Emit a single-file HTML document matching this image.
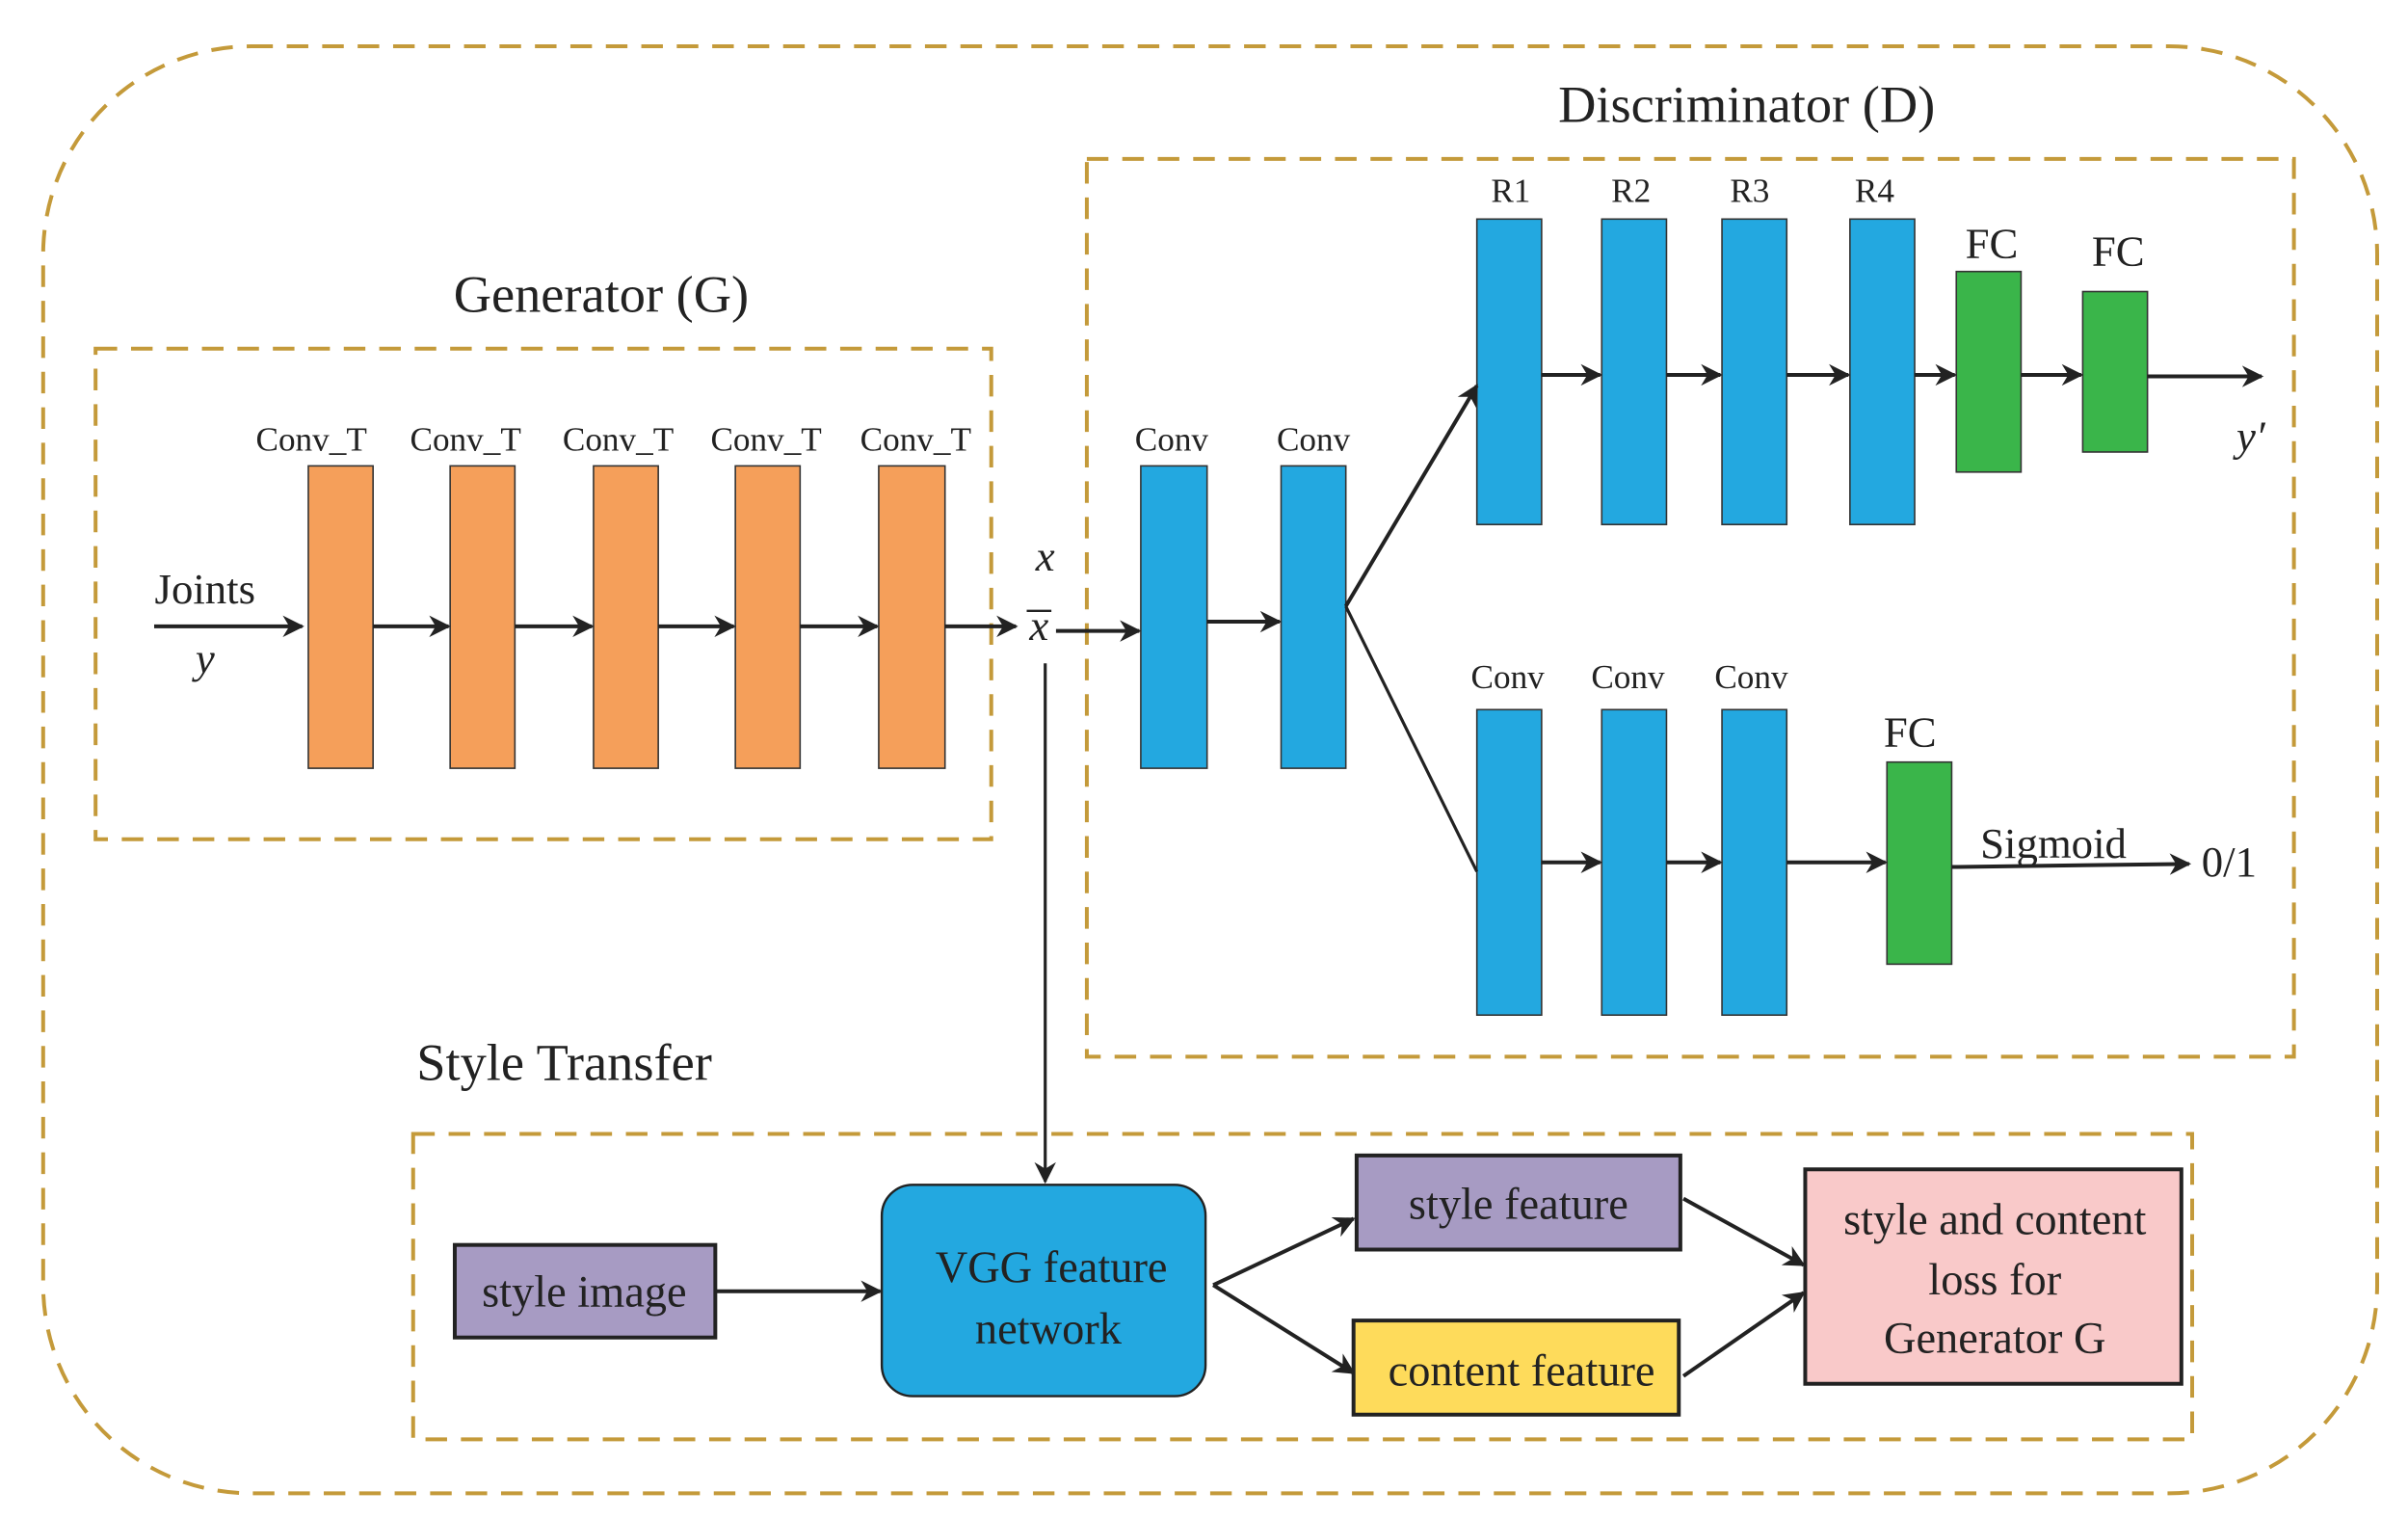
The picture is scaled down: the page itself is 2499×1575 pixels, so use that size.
<!DOCTYPE html>
<html><head><meta charset="utf-8"><style>html,body{margin:0;padding:0;background:#fff}svg{display:block}</style></head>
<body>
<svg width="2499" height="1575" viewBox="0 0 1562 984" preserveAspectRatio="none" xmlns="http://www.w3.org/2000/svg" font-family="Liberation Serif, serif">
<defs>
<marker id="a" viewBox="0 0 10 10" refX="9" refY="5" markerWidth="7" markerHeight="7" orient="auto" markerUnits="userSpaceOnUse"><path d="M0,0 L10,5 L0,10 L3,5 z" fill="#222"/></marker>
<marker id="b" viewBox="0 0 10 10" refX="9" refY="5" markerWidth="18" markerHeight="14" orient="auto" markerUnits="userSpaceOnUse"><path d="M0,0 L10,5 L0,10 L3,5 z" fill="#222"/></marker>
</defs>
<g fill="none" stroke="#c49a3a" stroke-width="2.5" stroke-dasharray="14,9">
<rect x="28" y="30" width="1514" height="938" rx="135"/>
<rect x="705" y="103" width="783" height="582"/>
<rect x="62" y="226" width="581" height="318"/>
<rect x="268" y="735" width="1154" height="198"/>
</g>
<g font-size="34" fill="#222" text-anchor="middle">
<text x="1133" y="79">Discriminator (D)</text>
<text x="390" y="202">Generator (G)</text>
<text x="366" y="700">Style Transfer</text>
</g>
<g fill="#f59f5a" stroke="#333" stroke-width="1">
<rect x="200" y="302" width="42" height="196"/><rect x="292" y="302" width="42" height="196"/><rect x="385" y="302" width="42" height="196"/><rect x="477" y="302" width="42" height="196"/><rect x="570" y="302" width="43" height="196"/>
</g>
<g font-size="22" fill="#222" text-anchor="middle">
<text x="202" y="292">Conv_T</text><text x="302" y="292">Conv_T</text><text x="401" y="292">Conv_T</text><text x="497" y="292">Conv_T</text><text x="594" y="292">Conv_T</text>
<text x="760" y="292">Conv</text><text x="852" y="292">Conv</text>
<text x="980" y="131">R1</text><text x="1058" y="131">R2</text><text x="1135" y="131">R3</text><text x="1216" y="131">R4</text>
<text x="978" y="446">Conv</text><text x="1056" y="446">Conv</text><text x="1136" y="446">Conv</text>
</g>
<g font-size="28" fill="#222" text-anchor="middle">
<text x="133" y="391">Joints</text>
<text x="133" y="436" font-style="italic">y</text>
<text x="678" y="370" font-style="italic">x</text>
<text x="674" y="415" font-style="italic">x</text>
<text x="1292" y="167">FC</text><text x="1374" y="172">FC</text>
<text x="1460" y="292" font-style="italic">y′</text>
<text x="1239" y="484">FC</text>
<text x="1332" y="556">Sigmoid</text>
<text x="1446" y="568">0/1</text>
</g>
<line x1="666" y1="396" x2="682" y2="396" stroke="#222" stroke-width="1.5"/>
<g fill="#23a8e0" stroke="#333" stroke-width="1">
<rect x="740" y="302" width="43" height="196"/><rect x="831" y="302" width="42" height="196"/>
<rect x="958" y="142" width="42" height="198"/><rect x="1039" y="142" width="42" height="198"/><rect x="1117" y="142" width="42" height="198"/><rect x="1200" y="142" width="42" height="198"/>
<rect x="958" y="460" width="42" height="198"/><rect x="1039" y="460" width="42" height="198"/><rect x="1117" y="460" width="42" height="198"/>
</g>
<g fill="#3ab54a" stroke="#333" stroke-width="1">
<rect x="1269" y="176" width="42" height="130"/><rect x="1351" y="189" width="42" height="104"/><rect x="1224" y="494" width="42" height="131"/>
</g>
<g stroke="#222" stroke-width="2.5" fill="none" marker-end="url(#b)">
<line x1="100" y1="406" x2="196" y2="406"/>
<line x1="242" y1="406" x2="291" y2="406"/><line x1="334" y1="406" x2="384" y2="406"/><line x1="427" y1="406" x2="476" y2="406"/><line x1="519" y1="406" x2="569" y2="406"/>
<line x1="613" y1="406" x2="659" y2="406"/>
<line x1="685" y1="409" x2="739" y2="409"/>
<line x1="783" y1="403" x2="830" y2="403"/>
<line x1="1000" y1="243" x2="1038" y2="243"/><line x1="1081" y1="243" x2="1116" y2="243"/><line x1="1159" y1="243" x2="1199" y2="243"/><line x1="1242" y1="243" x2="1268" y2="243"/><line x1="1311" y1="243" x2="1350" y2="243"/>
<line x1="1393" y1="244" x2="1467" y2="244"/>
<line x1="1000" y1="559" x2="1038" y2="559"/><line x1="1081" y1="559" x2="1116" y2="559"/><line x1="1159" y1="559" x2="1223" y2="559"/>
<line x1="1266" y1="562" x2="1420" y2="560"/>
<line x1="873" y1="393" x2="958" y2="250"/>
<line x1="464" y1="837" x2="571" y2="837"/>
<line x1="787" y1="833" x2="878" y2="790"/><line x1="787" y1="833" x2="878" y2="890"/>
<line x1="1092" y1="777" x2="1170" y2="820"/><line x1="1092" y1="892" x2="1170" y2="838"/>
</g>
<line x1="873" y1="393" x2="958" y2="565" stroke="#222" stroke-width="2"/>
<line x1="678" y1="430" x2="678" y2="766" stroke="#222" stroke-width="2" marker-end="url(#b)"/>
<rect x="295" y="807" width="169" height="60" fill="#a79bc3" stroke="#222" stroke-width="2.5"/>
<rect x="572" y="768" width="210" height="137" rx="20" fill="#23a8e0" stroke="#222" stroke-width="1.5"/>
<rect x="880" y="749" width="210" height="61" fill="#a79bc3" stroke="#222" stroke-width="2.5"/>
<rect x="878" y="856" width="211" height="61" fill="#fedb5b" stroke="#222" stroke-width="2.5"/>
<rect x="1171" y="758" width="244" height="139" fill="#f9c9c9" stroke="#222" stroke-width="2.5"/>
<g font-size="29" fill="#222" text-anchor="middle">
<text x="379" y="847">style image</text>
<text x="682" y="831">VGG feature</text><text x="680" y="871">network</text>
<text x="985" y="790">style feature</text>
<text x="987" y="898">content feature</text>
<text x="1294" y="800">style and content</text><text x="1294" y="839">loss for</text><text x="1294" y="877">Generator G</text>
</g>
</svg>
</body></html>
